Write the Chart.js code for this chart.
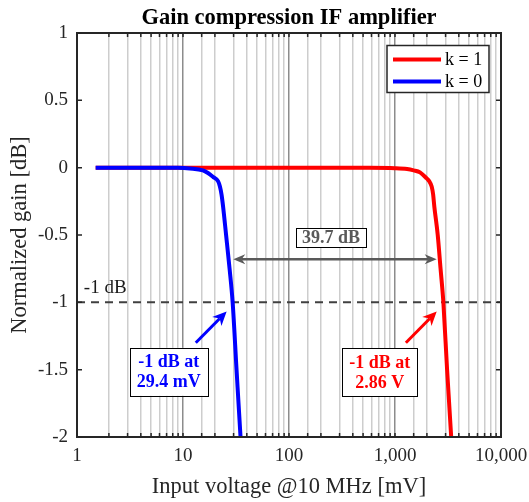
<!DOCTYPE html>
<html>
<head>
<meta charset="utf-8">
<script src="https://cdn.jsdelivr.net/npm/chart.js@4.4.1/dist/chart.umd.min.js"></script>
<style>
  html, body { margin: 0; padding: 0; background: #fff; }
</style>
</head>
<body>
<canvas id="gainChart" width="529" height="502"></canvas>
<script>
// input voltage [mV] and normalized gain [dB]
const voltK0 = [1.5, 5, 9, 11.6, 15.4, 17.2, 19.3, 21.4, 22.3, 23.1, 23.9, 25.5, 27.5, 29.4, 32, 34.9, 35.6];
const gainK0 = [0, 0, -0.001, -0.006, -0.02, -0.04, -0.07, -0.1, -0.14, -0.2, -0.29, -0.5, -0.75, -1, -1.5, -2, -2.1];
const voltK1 = [1.5, 100, 500, 1000, 1300, 1500, 1722, 1991, 2100, 2218, 2290, 2350, 2530, 2690, 2860, 3100, 3390, 3460];
const gainK1 = [0, 0, -0.001, -0.004, -0.01, -0.02, -0.035, -0.08, -0.1, -0.14, -0.2, -0.29, -0.5, -0.75, -1, -1.5, -2, -2.1];

const seriesNames = ["k = 1", "k = 0"];
const seriesColors = ["#ff0000", "#0000ff"];

const xTickValues = [1, 10, 100, 1000, 10000];
const xTickLabels = ["1", "10", "100", "1,000", "10,000"];
const yTickValues = [1, 0.5, 0, -0.5, -1, -1.5, -2];
const yTickLabels = ["1", "0.5", "0", "-0.5", "-1", "-1.5", "-2"];

const refLevel = -1; // -1 dB line
const refX = [1, 10000];

// annotations, in data units
const gapArrowX = [29.8, 2473];
const gapArrowY = -0.68;
const gapLabel = "39.7 dB";
const gapLabelPos = [249, -0.52];
const refLabel = "-1 dB";
const refLabelPos = [1.16, -0.89];
const calloutText = [["-1 dB at", "29.4 mV"], ["-1 dB at", "2.86 V"]];
const calloutBox = [[7.33, -1.516], [719, -1.52]];
const calloutFrom = [[13.2, -1.3], [1267, -1.3]];
const calloutTo = [[25.8, -1.068], [2474, -1.068]];

const serif = '"Liberation Serif", "Times New Roman", serif';

function isDecade(v) {
  const l = Math.log10(v);
  return Math.abs(l - Math.round(l)) < 1e-6;
}

function toPoints(xs, ys) {
  return xs.map((x, i) => ({ x: x, y: ys[i] }));
}

// notched arrow head, like matlab's vback2
function arrowHead(ctx, x0, y0, x1, y1, len, half) {
  const d = Math.hypot(x1 - x0, y1 - y0);
  const ux = (x1 - x0) / d, uy = (y1 - y0) / d;
  const nx = -uy, ny = ux;
  ctx.beginPath();
  ctx.moveTo(x1, y1);
  ctx.lineTo(x1 - len * ux + half * nx, y1 - len * uy + half * ny);
  ctx.lineTo(x1 - 0.7 * len * ux, y1 - 0.7 * len * uy);
  ctx.lineTo(x1 - len * ux - half * nx, y1 - len * uy - half * ny);
  ctx.closePath();
  ctx.fill();
}

function arrow(ctx, x0, y0, x1, y1, color, width, len, half) {
  const d = Math.hypot(x1 - x0, y1 - y0);
  const ux = (x1 - x0) / d, uy = (y1 - y0) / d;
  ctx.strokeStyle = color;
  ctx.fillStyle = color;
  ctx.lineWidth = width;
  ctx.beginPath();
  ctx.moveTo(x0, y0);
  ctx.lineTo(x1 - 0.7 * len * ux, y1 - 0.7 * len * uy);
  ctx.stroke();
  arrowHead(ctx, x0, y0, x1, y1, len, half);
}

function textBox(ctx, lines, cx, cy, color, lineH, padX, padY) {
  ctx.font = "bold 18px " + serif;
  const w = Math.max(...lines.map(t => ctx.measureText(t).width)) + 2 * padX;
  const h = lines.length * lineH + 2 * padY;
  ctx.fillStyle = "#fff";
  ctx.fillRect(cx - w / 2, cy - h / 2, w, h);
  ctx.strokeStyle = "#000";
  ctx.lineWidth = 1;
  ctx.strokeRect(Math.round(cx - w / 2) + 0.5, Math.round(cy - h / 2) + 0.5, Math.round(w), Math.round(h));
  ctx.fillStyle = color;
  ctx.textAlign = "center";
  ctx.textBaseline = "middle";
  lines.forEach((t, i) => {
    ctx.fillText(t, cx, cy - h / 2 + padY + lineH * (i + 0.5) + 1);
  });
}

const decorPlugin = {
  id: "decor",
  afterDatasetsDraw(chart) {
    const { ctx, chartArea: a, scales: { x, y } } = chart;
    ctx.save();

    // frame + inward ticks on all four sides
    ctx.strokeStyle = "#262626";
    ctx.lineWidth = 2;
    ctx.strokeRect(a.left, a.top, a.right - a.left, a.bottom - a.top);
    ctx.lineWidth = 1.5;
    ctx.beginPath();
    x.ticks.forEach(t => {
      const px = x.getPixelForValue(t.value);
      ctx.moveTo(px, a.bottom); ctx.lineTo(px, a.bottom - 4);
      ctx.moveTo(px, a.top); ctx.lineTo(px, a.top + 4);
    });
    y.ticks.forEach(t => {
      const py = y.getPixelForValue(t.value);
      ctx.moveTo(a.left, py); ctx.lineTo(a.left + 5, py);
      ctx.moveTo(a.right, py); ctx.lineTo(a.right - 5, py);
    });
    ctx.stroke();

    // -1 dB label
    ctx.fillStyle = "#1a1a1a";
    ctx.font = "19px " + serif;
    ctx.textAlign = "left";
    ctx.textBaseline = "middle";
    ctx.fillText(refLabel, x.getPixelForValue(refLabelPos[0]), y.getPixelForValue(refLabelPos[1]));

    // double arrow between the two -1 dB points
    const ay = y.getPixelForValue(gapArrowY);
    const ax0 = x.getPixelForValue(gapArrowX[0]);
    const ax1 = x.getPixelForValue(gapArrowX[1]);
    ctx.strokeStyle = "#595959";
    ctx.fillStyle = "#595959";
    ctx.lineWidth = 2.5;
    ctx.beginPath();
    ctx.moveTo(ax0 + 8, ay); ctx.lineTo(ax1 - 8, ay);
    ctx.stroke();
    arrowHead(ctx, ax1, ay, ax0, ay, 12, 5);
    arrowHead(ctx, ax0, ay, ax1, ay, 12, 5);
    textBox(ctx, [gapLabel], x.getPixelForValue(gapLabelPos[0]), y.getPixelForValue(gapLabelPos[1]), "#595959", 18, 6, 0.5);

    // callouts
    for (let i = 0; i < 2; i++) {
      const c = seriesColors[1 - i];
      arrow(ctx,
        x.getPixelForValue(calloutFrom[i][0]), y.getPixelForValue(calloutFrom[i][1]),
        x.getPixelForValue(calloutTo[i][0]), y.getPixelForValue(calloutTo[i][1]),
        c, 3, 14, 6.5);
      textBox(ctx, calloutText[i], x.getPixelForValue(calloutBox[i][0]), y.getPixelForValue(calloutBox[i][1]), c, 20, 7, 4);
    }

    // legend box, top right inside the axes
    const lx = a.right - 114, ly = a.top + 12.5;
    ctx.fillStyle = "#fff";
    ctx.fillRect(lx, ly, 102, 47);
    ctx.strokeStyle = "#262626";
    ctx.lineWidth = 1.5;
    ctx.strokeRect(lx, ly, 102, 47);
    ctx.font = "18px " + serif;
    ctx.textAlign = "left";
    ctx.textBaseline = "middle";
    seriesNames.forEach((name, i) => {
      const yy = ly + 14 + i * 22;
      ctx.strokeStyle = seriesColors[i];
      ctx.lineWidth = 4;
      ctx.beginPath();
      ctx.moveTo(lx + 6, yy); ctx.lineTo(lx + 54, yy);
      ctx.stroke();
      ctx.fillStyle = "#000";
      ctx.fillText(name, lx + 58, yy + 1);
    });

    ctx.restore();
  }
};

new Chart(document.getElementById("gainChart"), {
  type: "line",
  data: {
    datasets: [
      {
        label: seriesNames[0],
        data: toPoints(voltK1, gainK1),
        borderColor: seriesColors[0],
        borderWidth: 4,
        pointRadius: 0,
        cubicInterpolationMode: "monotone",
        order: 2,
      },
      {
        label: seriesNames[1],
        data: toPoints(voltK0, gainK0),
        borderColor: seriesColors[1],
        borderWidth: 4,
        pointRadius: 0,
        cubicInterpolationMode: "monotone",
        order: 1,
      },
      {
        label: "-1 dB",
        data: toPoints(refX, [refLevel, refLevel]),
        borderColor: "#404040",
        borderWidth: 2,
        borderDash: [8, 6],
        pointRadius: 0,
        order: 3,
      },
    ],
  },
  options: {
    responsive: false,
    animation: false,
    devicePixelRatio: 1,
    layout: { padding: { left: 0, right: 28, top: 0, bottom: 0 } },
    plugins: {
      legend: { display: false },
      tooltip: { enabled: false },
      title: {
        display: true,
        fullSize: false,
        text: "Gain compression IF amplifier",
        color: "#000",
        font: { family: serif, size: 22.5, weight: "bold" },
        padding: { top: 5, bottom: 1 },
      },
    },
    scales: {
      x: {
        type: "logarithmic",
        min: 1,
        max: 10000,
        border: { display: false },
        grid: {
          color: (c) => (c.tick && isDecade(c.tick.value) ? "#8c8c8c" : "#cdcdcd"),
          lineWidth: 1.5,
          drawTicks: false,
        },
        ticks: {
          autoSkip: false,
          maxRotation: 0,
          padding: 8,
          color: "#262626",
          font: { family: serif, size: 19 },
          callback: (v) => {
            const i = xTickValues.findIndex((t) => Math.abs(t - v) < 1e-6 * t);
            return i >= 0 ? xTickLabels[i] : "";
          },
        },
        title: {
          display: true,
          text: "Input voltage @10 MHz [mV]",
          color: "#262626",
          font: { family: serif, size: 22.5 },
          padding: { top: 0, bottom: 1.5 },
        },
        afterFit: (s) => {
          s.height = 65;
          s.paddingLeft = 0;
          s.paddingRight = 0;
        },
      },
      y: {
        min: -2,
        max: 1,
        border: { display: false },
        grid: { display: false, drawTicks: false },
        ticks: {
          stepSize: 0.5,
          padding: 9,
          color: "#262626",
          font: { family: serif, size: 19 },
          callback: (v) => {
            const i = yTickValues.findIndex((t) => Math.abs(t - v) < 1e-6);
            return i >= 0 ? yTickLabels[i] : "";
          },
        },
        title: {
          display: true,
          text: "Normalized gain [dB]",
          color: "#262626",
          font: { family: serif, size: 22.5 },
          padding: { top: 7, bottom: 0 },
        },
        afterFit: (s) => {
          s.width = 77;
          s.paddingTop = 0;
          s.paddingBottom = 0;
        },
      },
    },
  },
  plugins: [decorPlugin],
});
</script>
</body>
</html>
